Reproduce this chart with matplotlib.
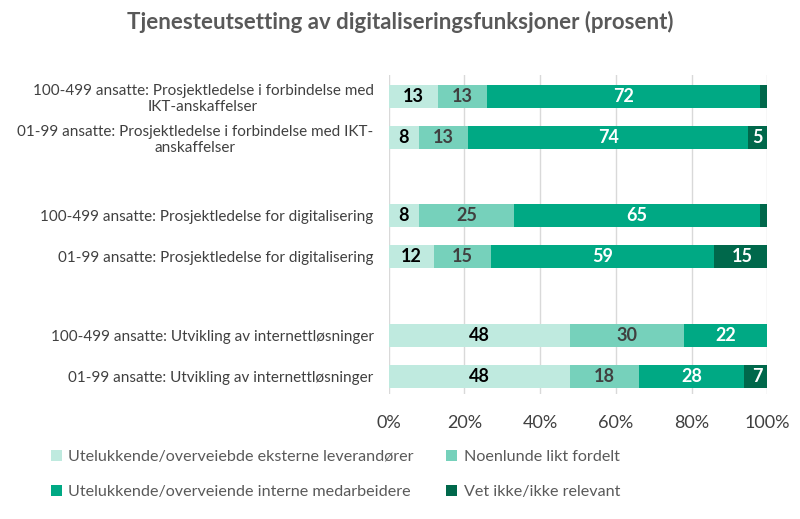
import numpy as np
import matplotlib.pyplot as plt
from matplotlib.patches import Patch

plt.rcParams['font.family'] = ['Lato', 'DejaVu Sans']

categories = [
    "100-499 ansatte: Prosjektledelse i forbindelse med\nIKT-anskaffelser",
    "01-99 ansatte: Prosjektledelse i forbindelse med IKT-\nanskaffelser",
    "100-499 ansatte: Prosjektledelse for digitalisering",
    "01-99 ansatte: Prosjektledelse for digitalisering",
    "100-499 ansatte: Utvikling av internettløsninger",
    "01-99 ansatte: Utvikling av internettløsninger",
]
series_names = [
    "Utelukkende/overveiebde eksterne leverandører",
    "Noenlunde likt fordelt",
    "Utelukkende/overveiende interne medarbeidere",
    "Vet ikke/ikke relevant",
]
eksterne = [13, 8, 8, 12, 48, 48]
likt = [13, 13, 25, 15, 30, 18]
interne = [72, 74, 65, 59, 22, 28]
vet_ikke = [2, 5, 2, 15, 0, 7]
# segments too small to carry a label in the original
hide_label = [(0, 3), (2, 3), (4, 3)]

colors = ['#bfeadf', '#76d1bb', '#00a984', '#00684b']
text_colors = ['#000000', '#404040', '#ffffff', '#ffffff']

# y positions: pairs separated by a wider gap
ypos = np.array([0, 1, 2.87, 3.86, 5.76, 6.75])

fig = plt.figure(figsize=(8, 5.19), dpi=100)
ax = fig.add_axes([0.486, 0.24, 0.473, 0.615])

data = [eksterne, likt, interne, vet_ikke]
left = np.zeros(len(categories))
for s, vals in enumerate(data):
    vals = np.array(vals, dtype=float)
    ax.barh(ypos, vals, left=left, height=0.56, color=colors[s], zorder=2)
    for i, v in enumerate(vals):
        if v > 0 and (i, s) not in hide_label:
            ax.text(left[i] + v / 2, ypos[i], f"{int(v)}", ha='center', va='center',
                    fontsize=13, fontweight='bold', color=text_colors[s], zorder=3)
    left += vals

ax.set_xlim(0, 100)
ax.set_ylim(7.18, -0.506)
ax.set_xticks(np.arange(0, 101, 20))
ax.set_xticklabels([f"{t}%" for t in range(0, 101, 20)])
ax.set_yticks(ypos)
ax.set_yticklabels(categories, multialignment='center')
ax.tick_params(axis='both', length=0, colors='#404040')
ax.tick_params(axis='y', pad=11, labelsize=11)
ax.tick_params(axis='x', pad=15, labelsize=13)
ax.xaxis.grid(True, color='#d9d9d9', linewidth=1, zorder=0)
ax.set_axisbelow(True)
for sp in ax.spines.values():
    sp.set_visible(False)

fig.suptitle("Tjenesteutsetting av digitaliseringsfunksjoner (prosent)",
             x=0.5, y=0.978, fontsize=16, fontweight='bold', color='#595959')

# legend fills column-wise, so reorder to get row-wise layout
order = [0, 2, 1, 3]
handles = [Patch(facecolor=colors[k], edgecolor='none') for k in order]
labels = [series_names[k] for k in order]
fig.legend(handles, labels, loc='lower left', bbox_to_anchor=(0.045, 0.01),
           ncol=2, frameon=False, fontsize=11.6, labelcolor='#595959',
           handlelength=0.7, handleheight=0.7, handletextpad=0.4,
           columnspacing=2.0, labelspacing=1.3)

fig.savefig("out.png", dpi=100)
